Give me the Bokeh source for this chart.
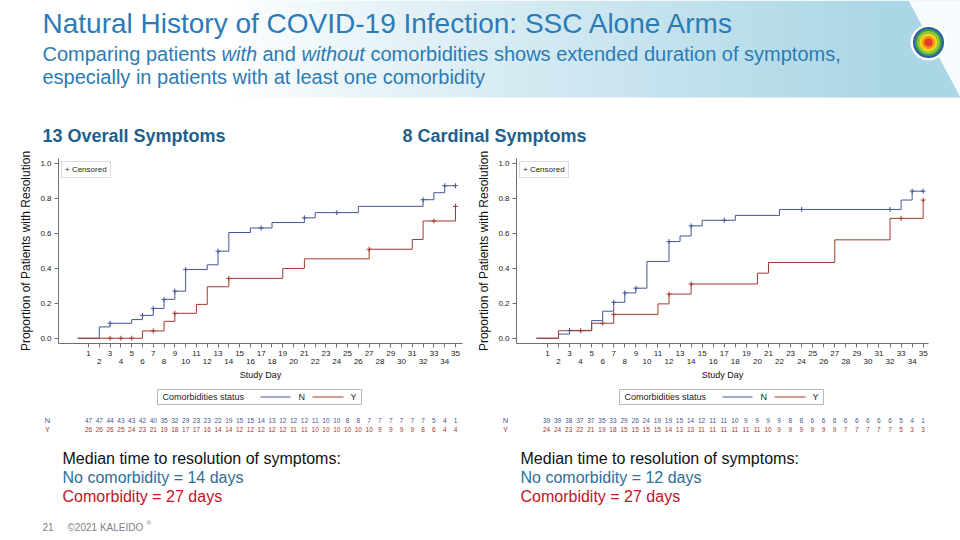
import numpy as np
from bokeh.plotting import figure
from bokeh.layouts import column, row
from bokeh.models import (Range1d, FixedTicker, PrintfTickFormatter, LinearAxis,
                          Legend, LegendItem, ColumnDataSource)
from bokeh.core.properties import value
from bokeh.embed import file_html
from bokeh.resources import INLINE

FONT = "Liberation Sans"
BLUE = "#445694"
RED = "#A23A2E"
TITLE_BLUE = "#2b7bb6"
HEAD_BLUE = "#1f5f8c"
AXIS_GRAY = "#6f6f6f"

# ---------------- data ----------------
day_ticks = list(range(1, 36))
y_ticks = [0.0, 0.2, 0.4, 0.6, 0.8, 1.0]

# 13 overall symptoms: Kaplan-Meier steps (day, proportion resolved)
ov_n_day = [0, 2, 3, 5, 6, 7, 8, 9, 10, 12, 13, 14, 16, 18, 21, 22, 26, 32, 33, 34, 35]
ov_n_p = [0, .065, .086, .107, .131, .171, .223, .27, .394, .421, .499, .606, .632, .663,
          .69, .72, .756, .794, .834, .874, .874]
ov_n_cens = [3, 6, 7, 8, 9, 10, 13, 17, 21, 24, 32, 34, 35]
ov_y_day = [0, 6, 8, 9, 11, 12, 14, 19, 21, 27, 31, 32, 35]
ov_y_p = [0, .042, .097, .143, .194, .295, .343, .40, .455, .51, .566, .672, .756]
ov_y_cens = [3, 4, 5, 7, 9, 14, 27, 33, 35]
ov_n_risk = [47, 47, 44, 43, 43, 42, 40, 35, 32, 29, 23, 23, 22, 19, 15, 15, 14, 13, 12, 12,
             12, 11, 10, 10, 8, 8, 7, 7, 7, 7, 7, 7, 5, 4, 1]
ov_y_risk = [26, 26, 26, 25, 24, 23, 21, 19, 18, 17, 17, 16, 14, 14, 12, 12, 12, 12, 12, 11,
             11, 10, 10, 10, 10, 10, 10, 9, 9, 9, 9, 8, 6, 4, 4]

# 8 cardinal symptoms
ca_n_day = [0, 2, 3, 5, 6, 7, 8, 9, 10, 12, 13, 14, 15, 18, 22, 33, 34, 35]
ca_n_p = [0, .024, .045, .101, .155, .206, .26, .287, .44, .554, .586, .644, .676, .704,
          .738, .792, .843, .843]
ca_n_cens = [3, 7, 8, 9, 12, 14, 17, 24, 32, 34, 35]
ca_y_day = [0, 2, 5, 7, 11, 12, 14, 20, 21, 27, 32, 35]
ca_y_p = [0, .043, .086, .137, .197, .253, .311, .373, .434, .564, .687, .792]
ca_y_cens = [4, 6, 7, 12, 14, 33, 35]
ca_n_risk = [39, 39, 38, 37, 37, 35, 33, 29, 26, 24, 19, 19, 15, 14, 12, 11, 11, 10, 9, 9,
             9, 9, 8, 8, 6, 6, 6, 6, 6, 6, 6, 6, 5, 4, 1]
ca_y_risk = [24, 24, 23, 22, 21, 19, 18, 15, 15, 15, 15, 14, 13, 13, 11, 11, 11, 11, 11, 11,
             10, 9, 9, 9, 9, 9, 9, 7, 7, 7, 7, 7, 5, 3, 3]

group_labels = ["N", "Y"]

# ---------------- helpers ----------------
def txt(p, x, y, s, size, color, style="normal", align="left", baseline="middle",
        x_range_name=None):
    kw = {}
    if x_range_name:
        kw["x_range_name"] = x_range_name
    p.text(x=[x], y=[y], text=[s], text_font=value(FONT), text_font_size=size,
           text_color=color, text_font_style=style, text_align=align,
           text_baseline=baseline, **kw)


def step_vals(days, probs, at):
    days = np.asarray(days)
    idx = np.searchsorted(days, np.asarray(at), side="right") - 1
    return [probs[i] for i in idx]


HEAD_H = 146
KM_H = 238
BOT_H = 156
BOT_TOP = HEAD_H + KM_H  # 384


def km_panel(width, b_left, b_right, b_top, frame_h, x_lo, x_hi,
             n_day, n_p, n_cens, y_day, y_p, y_cens):
    p = figure(width=width, height=KM_H, x_range=Range1d(x_lo, x_hi),
               y_range=Range1d(-0.03, 1.03), output_backend="svg", toolbar_location=None,
               min_border_left=b_left, min_border_right=b_right, min_border_top=b_top,
               min_border_bottom=KM_H - b_top - frame_h, outline_line_color=None,
               background_fill_color="white", border_fill_color="white")
    p.grid.visible = False

    xa = p.xaxis[0]
    xa.ticker = FixedTicker(ticks=day_ticks)
    xa.major_label_overrides = {d: "" for d in day_ticks if d % 2 == 0}
    xa2 = LinearAxis(ticker=FixedTicker(ticks=day_ticks),
                     major_label_overrides={d: "" for d in day_ticks if d % 2 == 1})
    p.add_layout(xa2, "below")
    for ax in (xa, xa2):
        ax.major_label_text_font = FONT
        ax.major_label_text_font_size = "8px"
        ax.major_label_text_color = "#222222"
        ax.minor_tick_line_color = None
        ax.major_tick_in = 0
    xa.axis_line_color = AXIS_GRAY
    xa.major_tick_line_color = AXIS_GRAY
    xa.major_tick_out = 4
    xa.major_label_standoff = 3
    xa2.axis_line_color = None
    xa2.major_tick_line_color = None
    xa2.major_tick_out = 0
    xa2.major_label_standoff = 0
    xa2.axis_label = "Study Day"
    xa2.axis_label_text_font = FONT
    xa2.axis_label_text_font_size = "9px"
    xa2.axis_label_text_font_style = "normal"
    xa2.axis_label_text_color = "#111111"
    xa2.axis_label_standoff = 3

    ya = p.yaxis[0]
    ya.ticker = FixedTicker(ticks=y_ticks)
    ya.formatter = PrintfTickFormatter(format="%.1f")
    ya.major_label_text_font = FONT
    ya.major_label_text_font_size = "8px"
    ya.major_label_text_color = "#222222"
    ya.minor_tick_line_color = None
    ya.major_tick_in = 0
    ya.major_tick_out = 4
    ya.major_label_standoff = 3
    ya.axis_line_color = AXIS_GRAY
    ya.major_tick_line_color = AXIS_GRAY
    ya.axis_label = "Proportion of Patients with Resolution"
    ya.axis_label_text_font = FONT
    ya.axis_label_text_font_size = "12px"
    ya.axis_label_text_font_style = "normal"
    ya.axis_label_text_color = "#111111"
    ya.axis_label_standoff = 4

    p.step(x=n_day, y=n_p, mode="after", line_color=BLUE, line_width=1)
    p.step(x=y_day, y=y_p, mode="after", line_color=RED, line_width=1)
    p.scatter(x=n_cens, y=step_vals(n_day, n_p, n_cens), marker="cross", size=5,
              line_color=BLUE, line_width=1)
    p.scatter(x=y_cens, y=step_vals(y_day, y_p, y_cens), marker="cross", size=5,
              line_color=RED, line_width=1)
    dummy = p.scatter(x=[], y=[], marker="cross", size=5, line_color="#333333",
                      line_width=1)

    leg1 = Legend(items=[LegendItem(label="+ Censored", renderers=[dummy])],
                  location="top_left", margin=3, padding=3, glyph_width=0, glyph_height=9,
                  label_height=9, label_width=0, label_standoff=0,
                  label_text_font=FONT, label_text_font_size="8px",
                  label_text_color="#222222", border_line_color="#b8b8b8",
                  border_line_width=1, background_fill_color="white",
                  background_fill_alpha=1)
    p.add_layout(leg1)
    return p


def bottom_panel(width, page_left, b_left, b_right, x_lo, x_hi, n_risk, y_risk,
                 lab_x, med_x, med_text, leg_x, footer=False):
    b = figure(width=width, height=BOT_H, x_range=Range1d(page_left, page_left + width),
               y_range=Range1d(BOT_TOP + BOT_H, BOT_TOP), x_axis_type=None,
               y_axis_type=None, min_border=0, outline_line_color=None,
               output_backend="svg", toolbar_location=None,
               background_fill_color="white", border_fill_color="white")
    frame_w = width - b_left - b_right
    scale = (x_hi - x_lo) / frame_w
    b.extra_x_ranges = {"day": Range1d(x_lo - b_left * scale, x_hi + b_right * scale)}

    for risk, yrow, col in ((n_risk, 420, BLUE), (y_risk, 429, RED)):
        src = ColumnDataSource(dict(day=day_ticks, row=[yrow] * len(day_ticks),
                                    lab=[str(v) for v in risk]))
        b.text(x="day", y="row", text="lab", source=src, x_range_name="day",
               text_align="center", text_baseline="middle", text_font=value(FONT),
               text_font_size="6.5px", text_color=col)
    txt(b, lab_x, 420, group_labels[0], "7.5px", BLUE, align="center")
    txt(b, lab_x, 429, group_labels[1], "7.5px", RED, align="center")

    # comorbidity status legend box
    ly = 396.5
    b.quad(left=[leg_x], right=[leg_x + 204], top=[389], bottom=[404],
           fill_color="white", line_color="#b8b8b8", line_width=1)
    txt(b, leg_x + 5, ly, "Comorbidities status", "9px", "#222222")
    b.segment(x0=[leg_x + 103], x1=[leg_x + 133], y0=[ly], y1=[ly],
              line_color=BLUE, line_width=1)
    txt(b, leg_x + 141, ly, group_labels[0], "9px", "#222222")
    b.segment(x0=[leg_x + 155], x1=[leg_x + 186], y0=[ly], y1=[ly],
              line_color=RED, line_width=1)
    txt(b, leg_x + 193, ly, group_labels[1], "9px", "#222222")

    txt(b, med_x, 457.5, "Median time to resolution of symptoms:", "16px", "#111111")
    txt(b, med_x, 476.5, med_text[0], "16px", "#2e6e98")
    txt(b, med_x, 495.5, med_text[1], "16px", "#c0141e")
    if footer:
        txt(b, 42, 526.5, "21", "10px", "#808080")
        txt(b, 67, 526.5, "\u00a92021 KALEIDO", "10px", "#808080")
        txt(b, 146, 522, "\u00ae", "6px", "#808080")
    return b


# ---------------- header ----------------
head = figure(width=960, height=HEAD_H, x_range=Range1d(0, 960), y_range=Range1d(HEAD_H, 0),
              x_axis_type=None, y_axis_type=None, min_border=0, outline_line_color=None,
              output_backend="svg", toolbar_location=None,
              background_fill_color="white", border_fill_color="white")
GW, GH = 960, 97
xs = np.arange(GW)
t = np.clip((xs - 230) / (900 - 230), 0, 1) ** 0.85
c0 = np.array([255, 255, 255], dtype=float)
c1 = np.array([170, 214, 230], dtype=float)
rgb = (c0[None, :] * (1 - t[:, None]) + c1[None, :] * t[:, None]).astype(np.uint8)
img = np.zeros((GH, GW), dtype=np.uint32)
view = img.view(dtype=np.uint8).reshape((GH, GW, 4))
view[:, :, 0] = rgb[None, :, 0]
view[:, :, 1] = rgb[None, :, 1]
view[:, :, 2] = rgb[None, :, 2]
view[:, :, 3] = 255
head.image_rgba(image=[img], x=0, y=0, dw=GW, dh=GH)
head.patch([908, 960, 960], [0, 0, 97], fill_color="#f6fbfd", line_color=None)
for r, c in ((18, "white"), (15.5, "#2f5aa8"), (13.5, "#3a9e4a"), (11.5, "#8cc63f"),
             (9, "#f5d415"), (6.5, "#f39019"), (4, "#e53a25")):
    head.circle(x=[928], y=[42], radius=r, fill_color=c, line_color=None)

txt(head, 42, 23, "Natural History of COVID-19 Infection: SSC Alone Arms", "28px", TITLE_BLUE)
txt(head, 42, 53, "Comparing patients", "20px", TITLE_BLUE)
txt(head, 221, 53, "with", "20px", TITLE_BLUE, style="italic")
txt(head, 262, 53, "and", "20px", TITLE_BLUE)
txt(head, 301, 53, "without", "20px", TITLE_BLUE, style="italic")
txt(head, 370, 53, "comorbidities shows extended duration of symptoms,", "20px", TITLE_BLUE)
txt(head, 42, 76, "especially in patients with at least one comorbidity", "20px", TITLE_BLUE)
txt(head, 42, 135, "13 Overall Symptoms", "18px", HEAD_BLUE, style="bold")
txt(head, 402, 135, "8 Cardinal Symptoms", "18px", HEAD_BLUE, style="bold")

# ---------------- panels ----------------
L_LO, L_HI = -1.78, 35.65
R_LO, R_HI = -1.80, 35.48
pL = km_panel(474, 58, 12, 12, 185, L_LO, L_HI,
              ov_n_day, ov_n_p, ov_n_cens, ov_y_day, ov_y_p, ov_y_cens)
pR = km_panel(486, 41, 32, 9, 189, R_LO, R_HI,
              ca_n_day, ca_n_p, ca_n_cens, ca_y_day, ca_y_p, ca_y_cens)

bL = bottom_panel(474, 0, 58, 12, L_LO, L_HI, ov_n_risk, ov_y_risk, 47, 62,
                  ("No comorbidity = 14 days", "Comorbidity = 27 days"), 157, footer=True)
bR = bottom_panel(486, 474, 41, 32, R_LO, R_HI, ca_n_risk, ca_y_risk, 505, 520,
                  ("No comorbidity = 12 days", "Comorbidity = 27 days"), 619)

layout = column(head, row(pL, pR), row(bL, bR))
open("out.html", "w").write(file_html(layout, INLINE))
